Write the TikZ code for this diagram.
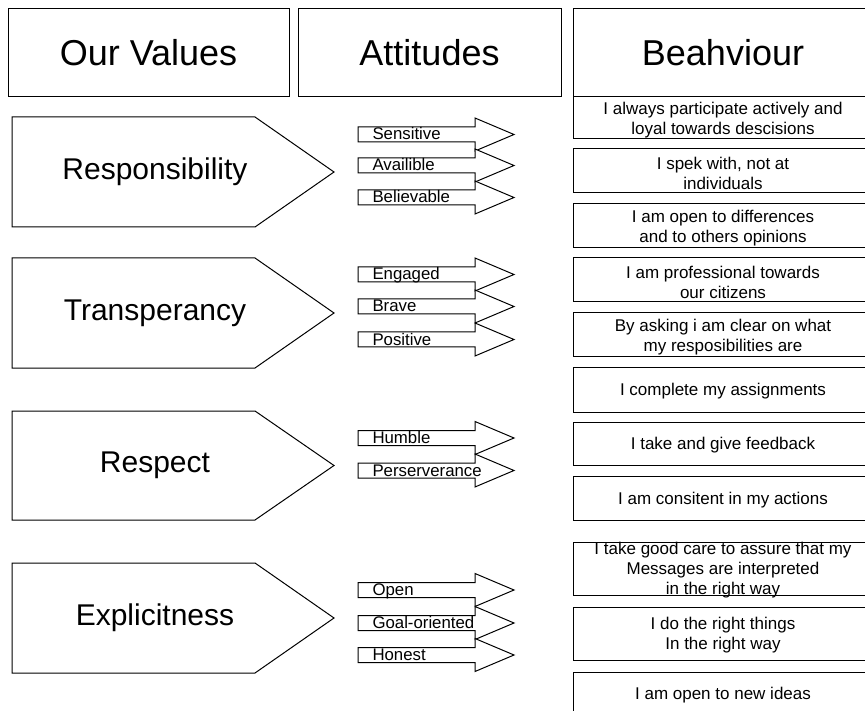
\documentclass[tikz,border=0pt]{standalone}
\usepackage{fontspec}
\setmainfont{Liberation Sans}
\usepackage{tikz}

\begin{document}
\begin{tikzpicture}[x=1pt,y=-1pt,line width=1pt,
    headtext/.style={font=\fontsize{36}{40}\selectfont},
    valuetext/.style={font=\fontsize{30}{34}\selectfont},
    atttext/.style={font=\fontsize{16.8}{18}\selectfont,anchor=base west,inner sep=0pt},
    behtext/.style={font=\fontsize{17}{20}\selectfont,align=center,inner sep=0pt}]
    \clip (0,0) rectangle (865,711);
    \fill[white] (0,0) rectangle (865,711);

    % column heads
    \draw (8,9) rectangle (289,97);
    \node[headtext] (ourvalues) at (148.5,53) {Our Values};
    \draw (298,9) rectangle (561,97);
    \node[headtext] (attitudes) at (429.5,53) {Attitudes};
    \draw (573,9) rectangle (873,97);
    \node[headtext] (behaviour) at (723,53) {Beahviour};

    % values
    \draw (12,117) -- (255,117) -- (334,172) -- (255,227) -- (12,227) -- cycle;
    \node[valuetext] (responsibility) at (155,172) {Responsibility};
    \draw (12,258) -- (255,258) -- (334,313) -- (255,368) -- (12,368) -- cycle;
    \node[valuetext] (transperancy) at (155,313) {Transperancy};
    \draw (12,411) -- (255,411) -- (334,465.5) -- (255,520) -- (12,520) -- cycle;
    \node[valuetext] (respect) at (155,465.5) {Respect};
    \draw (12,563) -- (255,563) -- (334,618) -- (255,673) -- (12,673) -- cycle;
    \node[valuetext] (explicitness) at (155,618) {Explicitness};

    % attitudes
    \draw[fill=white] (358,127) -- (475,127) -- (475,118) -- (514,134.5) -- (475,151) -- (475,142) -- (358,142) -- cycle;
    \draw[fill=white] (358,158) -- (475,158) -- (475,149) -- (514,165.5) -- (475,182) -- (475,173) -- (358,173) -- cycle;
    \draw[fill=white] (358,190) -- (475,190) -- (475,181) -- (514,197.5) -- (475,214) -- (475,205) -- (358,205) -- cycle;
    \node[atttext] (sensitive) at (372,140) {Sensitive};
    \node[atttext] (availible) at (372,171) {Availible};
    \node[atttext] (believable) at (372,203) {Believable};

    \draw[fill=white] (358,267) -- (475,267) -- (475,258) -- (514,274.5) -- (475,291) -- (475,282) -- (358,282) -- cycle;
    \draw[fill=white] (358,299) -- (475,299) -- (475,290) -- (514,306.5) -- (475,323) -- (475,314) -- (358,314) -- cycle;
    \draw[fill=white] (358,332) -- (475,332) -- (475,323) -- (514,339.5) -- (475,356) -- (475,347) -- (358,347) -- cycle;
    \node[atttext] (engaged) at (372,280) {Engaged};
    \node[atttext] (brave) at (372,312) {Brave};
    \node[atttext] (positive) at (372,345) {Positive};

    \draw[fill=white] (358,430.5) -- (475,430.5) -- (475,421.5) -- (514,438) -- (475,454.5) -- (475,445.5) -- (358,445.5) -- cycle;
    \draw[fill=white] (358,463) -- (475,463) -- (475,454) -- (514,470.5) -- (475,487) -- (475,478) -- (358,478) -- cycle;
    \node[atttext] (humble) at (372,443.5) {Humble};
    \node[atttext] (perserverance) at (372,476) {Perserverance};

    \draw[fill=white] (358,582.5) -- (475,582.5) -- (475,573.5) -- (514,590) -- (475,606.5) -- (475,597.5) -- (358,597.5) -- cycle;
    \draw[fill=white] (358,615.5) -- (475,615.5) -- (475,606.5) -- (514,623) -- (475,639.5) -- (475,630.5) -- (358,630.5) -- cycle;
    \draw[fill=white] (358,647.5) -- (475,647.5) -- (475,638.5) -- (514,655) -- (475,671.5) -- (475,662.5) -- (358,662.5) -- cycle;
    \node[atttext] (open) at (372,595.5) {Open};
    \node[atttext] (goaloriented) at (372,628.5) {Goal-oriented};
    \node[atttext] (honest) at (372,660.5) {Honest};

    % behaviour
    \draw (573,97) rectangle (873,139);
    \node[behtext] (b1) at (723,120) {I always participate actively and\\loyal towards descisions};
    \draw (573,149) rectangle (873,193);
    \node[behtext] (b2) at (723,173) {I spek with, not at\\individuals};
    \draw (573,204) rectangle (873,248);
    \node[behtext] (b3) at (723,228) {I am open to differences\\and to others opinions};
    \draw (573,258) rectangle (873,302);
    \node[behtext] (b4) at (723,282) {I am professional towards\\our citizens};
    \draw (573,313) rectangle (873,357);
    \node[behtext] (b5) at (723,337) {By asking i am clear on what\\my resposibilities are};
    \draw (573,367) rectangle (873,412);
    \node[behtext] (b6) at (723,391.5) {I complete my assignments};
    \draw (573,422) rectangle (873,465);
    \node[behtext] (b7) at (723,445.5) {I take and give feedback};
    \draw (573,476) rectangle (873,520);
    \node[behtext] (b8) at (723,500) {I am consitent in my actions};
    \draw (573,542) rectangle (873,595);
    \node[behtext] (b9) at (723,570.5) {I take good care to assure that my\\Messages are interpreted\\in the right way};
    \draw (573,607) rectangle (873,660);
    \node[behtext] (b10) at (723,635.5) {I do the right things\\In the right way};
    \draw (573,672) rectangle (873,730);
    \node[behtext] (b11) at (723,695) {I am open to new ideas};
\end{tikzpicture}
\end{document}
